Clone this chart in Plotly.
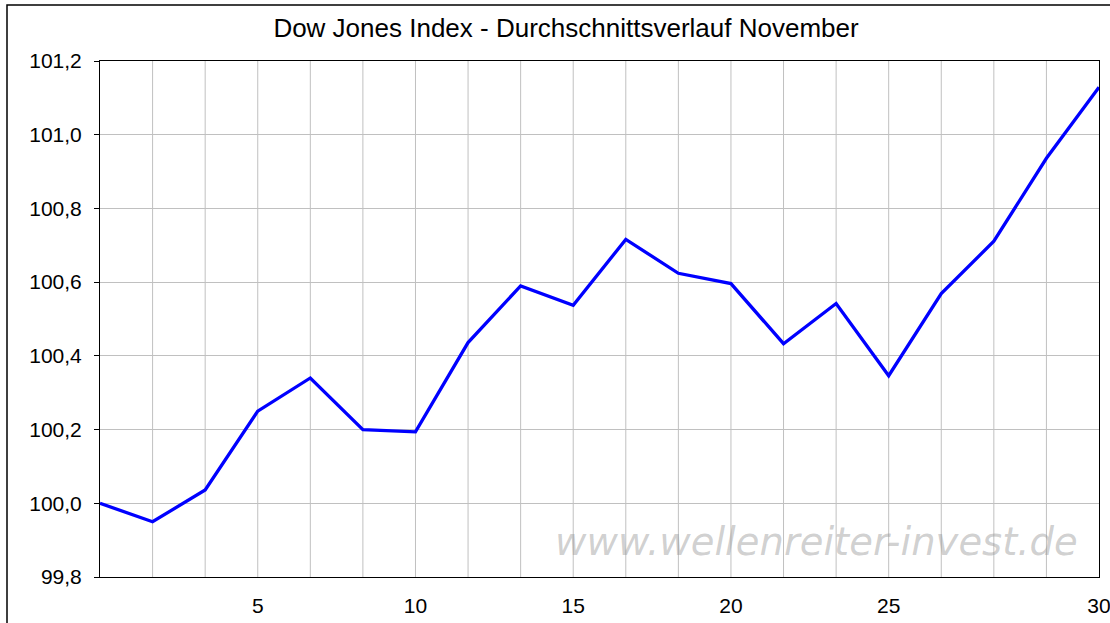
import plotly.graph_objects as go

# Data: average November course of the Dow Jones (trading-day index positions)
day_index = list(range(20))
values = [100.00, 99.95, 100.036, 100.25, 100.34, 100.20, 100.194, 100.436, 100.59, 100.537,
          100.716, 100.624, 100.596, 100.433, 100.542, 100.346, 100.569, 100.711, 100.936, 101.129]
tick_positions = [3, 6, 9, 12, 15, 19]
tick_labels = ["5", "10", "15", "20", "25", "30"]
y_ticks = [99.8, 100.0, 100.2, 100.4, 100.6, 100.8, 101.0, 101.2]

W, H = 1110, 623
L, R, T, B = 100, 11, 61, 46
pw, ph = W - L - R, H - T - B

def px(x):
    return (x - L) / pw

def py(y):
    return 1 - (y - T) / ph

fig = go.Figure()
fig.add_trace(go.Scatter(x=day_index, y=values, mode="lines",
                         line=dict(color="#0000ff", width=3.3), showlegend=False,
                         hoverinfo="skip"))

fig.update_layout(
    width=W, height=H,
    margin=dict(l=L, r=R, t=T, b=B, autoexpand=False),
    paper_bgcolor="white", plot_bgcolor="white",
    separators=",.",
    font=dict(family="Liberation Sans, Arial, sans-serif", color="black", size=21),
    title=dict(text="Dow Jones Index - Durchschnittsverlauf November",
               x=566 / W, xanchor="center", y=1 - 28 / H, yanchor="middle",
               font=dict(size=26, family="Liberation Sans, Arial, sans-serif")),
    xaxis=dict(range=[0, 19], tickvals=tick_positions, ticktext=tick_labels,
               showgrid=False, zeroline=False, showline=True, linecolor="black",
               linewidth=1, mirror=True, ticks="", ticklen=0, automargin=False,
               ticklabeloverflow="allow",
               ticklabelstandoff=10, tickfont=dict(size=21)),
    yaxis=dict(range=[99.8, 101.2], tickvals=y_ticks, tickformat=".1f",
               showgrid=True, gridcolor="#c0c0c0", gridwidth=1, zeroline=False,
               showline=True, linecolor="black", linewidth=1, mirror=True,
               ticks="outside", ticklen=5, tickcolor="black", automargin=False,
               ticklabeloverflow="allow",
               ticklabelstandoff=8, tickfont=dict(size=21)),
)

# vertical grid lines at every category
shapes = []
for i in day_index[1:-1]:
    shapes.append(dict(type="line", xref="x", yref="paper", x0=i, x1=i, y0=0, y1=1,
                       line=dict(color="#c0c0c0", width=1), layer="below"))
# outer chart border
shapes.append(dict(type="rect", xref="paper", yref="paper",
                   x0=px(7), x1=px(1120), y0=py(640), y1=py(5),
                   line=dict(color="black", width=1.5), fillcolor="rgba(0,0,0,0)"))
fig.update_layout(shapes=shapes)

fig.add_annotation(text="<i>www.wellenreiter-invest.de</i>", xref="paper", yref="paper",
                   x=px(1080), y=py(541), xanchor="right", yanchor="middle",
                   showarrow=False,
                   font=dict(family="DejaVu Sans, Verdana, sans-serif", size=38.5,
                             color="rgba(150,150,150,0.45)"))

fig.write_html("out.html", config={"displayModeBar": False},
               post_script="document.body.style.margin='0';document.body.style.overflow='hidden';")
